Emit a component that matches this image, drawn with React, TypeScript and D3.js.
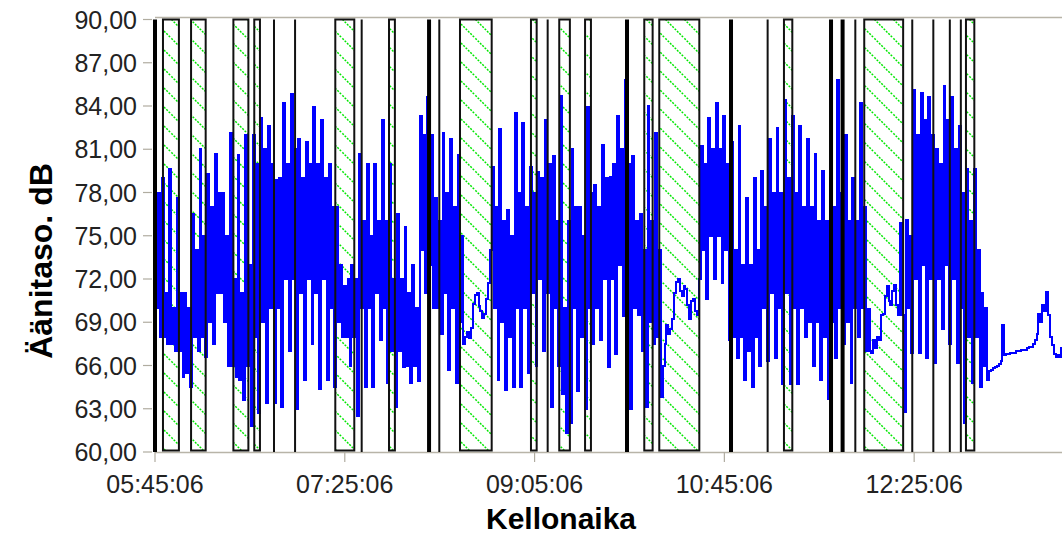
import React from "react";
import * as d3 from "d3";

// ---- data ----
const startTime = "05:45:06";
const endTime = "13:43:00";
const sampleMinutes = 1;
const xTickLabels = ["05:45:06", "07:25:06", "09:05:06", "10:45:06", "12:25:06"];
const yTicks = [60, 63, 66, 69, 72, 75, 78, 81, 84, 87, 90];

// sound level (dB), one value per minute from 05:45:06
const levels = [
  // 05:45 -
  83, 70, 78, 68, 79, 68, 71, 67.5, 79.6, 67.5, 70, 67, 77.6, 67, 71, 65.2,
  71, 65.5, 70, 64.5, 76.5, 68, 74, 67, 81, 68, 75, 66.6, 79.3, 69, 77, 67.5,
  80.7, 71, 78, 71, 78, 69, 75, 66, 82.1, 66, 72, 65.2, 80.6, 65, 71, 63.6,
  82, 66, 73, 61.8, 82, 68, 80, 62.7, 83.2, 69, 81, 63.4, 82.6, 70, 80, 63.4,
  78.9, 70, 79, 63.1, 84.2, 72, 80, 67, 84.8, 72, 81, 63, 81.7, 71, 79, 65,
  81.5, 72, 80, 67.5, 83.9, 71, 80, 64.4, 83, 72, 79, 65, 80, 70, 77, 64.5,
  77, 69, 73, 68, 71.5, 68, 72, 66, 73, 68, 72, 62.5, 80.7, 70, 76, 64.5,
  80, 70, 75, 64.5, 80, 71, 76, 67.8, 83, 70, 76, 64.8, 80, 67, 72, 63.1,
  76.5, 67, 72, 65.9, 75.6, 66, 71, 64.8, 73, 66, 70, 64.9, 83.3, 74, 82, 71,
  84.6, 73, 82, 70, 77.6, 70, 76, 68.2, 82.1, 71, 78, 65.7, 81.7, 70, 77, 64.8,
  80.6, 69, 75, 67.5,
  // 08:29 -
  68, 68.3, 67.9, 68.6, 70.3, 70.9, 71, 70.1, 69.8, 69.3, 69.6, 70.6, 71.7, 74,
  79.8, 70, 77, 65, 82.4, 69, 76, 64.3, 76.8, 68, 75, 64.5, 83.5, 70, 78, 64.5,
  82.8, 70, 77, 65.5, 79.8, 71, 78, 66, 79.4, 72, 79, 67, 83, 71, 80, 63.1,
  80.5, 70, 76, 66, 84.7, 64, 70, 61.3, 76, 62,
  81, 70, 77, 64.2, 77, 68, 75, 63, 83.9, 70, 78, 67.5, 78.5, 70, 77, 67.8,
  81.3, 72, 79, 65.9, 79.1, 72, 80, 66.8, 83.3, 73, 81, 69.4, 85.8, 74, 80, 63,
  80.5, 70, 76, 69.5, 76.5, 67, 74, 63.1, 84, 69, 76, 67.5, 82.1, 68, 74, 63.8,
  // 10:13 -
  66, 67.5, 68.8, 68.2, 68.5, 69.2, 71, 71.8, 72, 71.2, 70.8, 71.5, 71.3, 70.2,
  69.2, 70.5, 70.6, 69.8, 69.5, 72,
  81.2, 74, 80, 70.6, 83.2, 75, 81, 72, 84.2, 75, 81, 71.7, 83.3, 74, 80, 67.8,
  81.5, 68, 74, 66.5, 82.6, 68, 73, 65, 77.6, 67, 73, 64.5, 79, 68, 74, 66,
  79.5, 70, 77, 66.3, 81.7, 71, 78, 66.5, 82.5, 70, 78, 64.7, 84.4, 71, 79, 64.7,
  83.3, 70, 78, 64.7, 82.6, 70, 77, 68, 81.7, 69, 77, 66, 80.7, 69, 76, 65,
  79.5, 68, 76, 63.7, 79, 69, 77, 66.5, 85.8, 70, 78, 67.5, 82, 69, 76, 64.8,
  79, 70, 76, 68, 84.2, 70, 77, 67,
  // 12:01 -
  69.9, 67, 66.9, 67.8, 67.2, 68, 67.8, 69.5, 69.6, 70.8, 71.5, 70.5, 70.2, 71.2,
  71.6, 70.2, 69.5, 75.9, 69.5, 62.8,
  76.1, 70, 75, 66.9, 85.1, 72, 82, 66.9, 84.9, 73, 83, 66.5, 84.6, 72, 82, 66.2,
  81, 72, 80, 68.5, 85.4, 73, 83, 67.5, 84.6, 72, 81, 66.2, 82.6, 70, 78, 62,
  79.6, 68, 76, 64.8, 79.6, 68, 74, 64.5, 71, 66, 70, 65,
  // 13:05 -
  65.6, 65.7, 65.8, 65.9, 66, 66.1, 66.3, 68.8, 66.7, 66.8, 66.8, 66.9, 66.9,
  66.9, 67, 67, 67, 67.1, 67.1, 67.1, 67.2, 67.3, 67.3, 67.5, 67.8, 68.2, 69.6,
  69, 70.2, 69.8, 71.1, 69.5, 68, 67.4, 66.8, 66.6, 66.7, 66.6, 67.2,
];

// hatched periods [start, end]
const periodStarts = [
  "05:49:18", "06:04:06", "06:26:24", "06:37:24", "07:20:06", "07:48:24", "08:25:48", "09:03:12",
  "09:18:06", "09:31:42", "10:02:54", "10:10:48", "11:16:30", "11:58:48", "12:52:24",
];
const periodEnds = [
  "05:57:42", "06:11:48", "06:34:18", "06:40:24", "07:30:06", "07:51:30", "08:42:30", "09:06:12",
  "09:23:42", "09:34:48", "10:07:18", "10:31:54", "11:20:54", "12:19:18", "12:56:48",
];

// event markers
const thinMarkers = [
  "06:47:48", "06:58:54", "07:34:00", "08:14:54", "09:12:00", "11:07:54", "11:54:06",
  "12:24:06", "12:35:12", "12:43:54", "12:49:42",
];
const thickMarkers = ["05:45:06", "08:09:30", "09:53:48", "10:48:36", "11:41:18", "11:47:24"];

const yLabel = "Äänitaso. dB";
const xLabel = "Kellonaika";

// ---- chart ----
const W = 1062;
const H = 537;
const left = 155;
const right = 1062;
const top = 19.5;
const bottom = 452;
const font = "Arial, 'Liberation Sans', sans-serif";

export default function App() {
  const parse = d3.timeParse("%H:%M:%S");
  const t0 = parse(startTime) as Date;
  const x = d3.scaleTime().domain([t0, parse(endTime) as Date]).range([left, right]);
  const y = d3.scaleLinear().domain([60, 90]).range([bottom, top]);
  const fmt = d3.format(".2f");
  const yFmt = (v: number) => fmt(v).replace(".", ",");

  const pts = levels.map((v, i) => ({ t: d3.timeMinute.offset(t0, i * sampleMinutes), v }));
  const line = d3
    .line<{ t: Date; v: number }>()
    .x((d) => x(d.t))
    .y((d) => y(d.v))
    .curve(d3.curveStep);

  const periods = periodStarts.map((s, i) => ({ s: parse(s) as Date, e: parse(periodEnds[i]) as Date }));

  return (
    <div style={{ position: "absolute", left: 0, top: 0, width: W, height: H, background: "#fff" }}>
      <svg width={W} height={H} style={{ display: "block" }}>
        <defs>
          <pattern id="hatch" patternUnits="userSpaceOnUse" width={19} height={19}>
            <path
              d="M-2,-2 L21,21 M-2,17 L2,21 M17,-2 L21,2"
              stroke="#00e600"
              strokeWidth={1.5}
              strokeDasharray="2 1.3"
              fill="none"
            />
          </pattern>
          <clipPath id="plot">
            <rect x={left} y={top} width={right - left} height={bottom - top} />
          </clipPath>
        </defs>

        {/* frame */}
        <line x1={left} x2={right} y1={17.5} y2={17.5} stroke="#b8b4a8" strokeWidth={1.5} />
        <line x1={left} x2={right} y1={bottom + 0.5} y2={bottom + 0.5} stroke="#b8b4a8" strokeWidth={1.5} />

        {/* y ticks */}
        {yTicks.map((v) => (
          <g key={v}>
            <line x1={143} x2={152} y1={y(v)} y2={y(v)} stroke="#b0aca0" strokeWidth={1.2} />
            <text x={137} y={y(v) + 9} textAnchor="end" fontFamily={font} fontSize={25} fill="#222">
              {yFmt(v)}
            </text>
          </g>
        ))}

        {/* x ticks */}
        {xTickLabels.map((s) => {
          const xx = x(parse(s) as Date);
          return (
            <g key={s}>
              <line x1={xx} x2={xx} y1={bottom} y2={bottom + 10} stroke="#b0aca0" strokeWidth={1.2} />
              <text x={xx} y={493} textAnchor="middle" fontFamily={font} fontSize={25} fill="#222">
                {s}
              </text>
            </g>
          );
        })}

        {/* hatched periods */}
        {periods.map((p, i) => (
          <rect
            key={"f" + i}
            x={x(p.s)}
            y={top}
            width={x(p.e) - x(p.s)}
            height={bottom - top - 1.5}
            fill="url(#hatch)"
          />
        ))}

        {/* level line */}
        <path
          d={line(pts) || ""}
          fill="none"
          stroke="#0000ff"
          strokeWidth={2}
          shapeRendering="crispEdges"
          clipPath="url(#plot)"
        />

        {/* period outlines */}
        {periods.map((p, i) => (
          <rect
            key={"o" + i}
            x={x(p.s)}
            y={top}
            width={x(p.e) - x(p.s)}
            height={bottom - top - 1.5}
            fill="none"
            stroke="#111"
            strokeWidth={2}
          />
        ))}

        {/* markers */}
        {thinMarkers.map((s) => {
          const xx = x(parse(s) as Date);
          return <line key={s} x1={xx} x2={xx} y1={top} y2={bottom} stroke="#111" strokeWidth={2} />;
        })}
        {thickMarkers.map((s) => {
          const xx = x(parse(s) as Date);
          return <line key={s} x1={xx} x2={xx} y1={top} y2={bottom} stroke="#000" strokeWidth={4} />;
        })}

        {/* axis titles */}
        <text x={561} y={529} textAnchor="middle" fontFamily={font} fontSize={30} fontWeight="bold" fill="#000">
          {xLabel}
        </text>
        <text
          transform={`translate(52,261) rotate(-90)`}
          textAnchor="middle"
          fontFamily={font}
          fontSize={32}
          fontWeight="bold"
          fill="#000"
        >
          {yLabel}
        </text>
      </svg>
    </div>
  );
}
